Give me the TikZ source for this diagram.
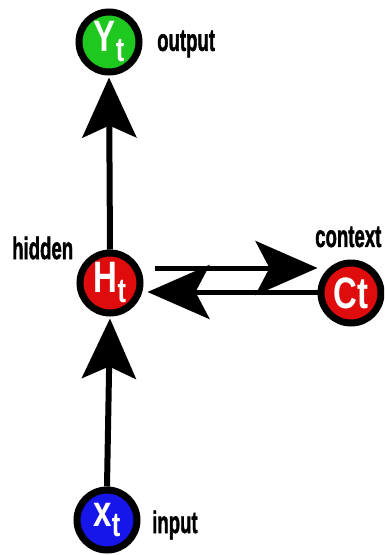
\documentclass[tikz,border=0pt]{standalone}
\usepackage{fontspec}
\setmainfont{Liberation Sans}
\newfontfamily\heavyfont[FakeBold=1.8]{Liberation Sans Bold}
\usetikzlibrary{arrows.meta}
\definecolor{ngreen}{RGB}{30,200,30}
\definecolor{nred}{RGB}{222,12,12}
\definecolor{nblue}{RGB}{22,22,235}
\newcommand{\labtxt}[1]{\scalebox{0.6}[1]{\fontsize{31}{31}\selectfont\heavyfont #1}}
\newcommand{\nodetxt}[2]{\scalebox{0.75}[1]{\fontsize{44}{44}\selectfont\bfseries #1\raisebox{-10pt}{\fontsize{34}{34}\selectfont\bfseries #2}}}
\tikzset{
  nodecirc/.style={circle, draw=black, line width=7pt, minimum size=60pt, inner sep=0pt, text=white},
  lab/.style={anchor=west, inner sep=0pt, text=black},
  arr/.style={line width=6pt, -{Stealth[length=60pt,width=54pt,inset=12pt]}},
  harr/.style={line width=5pt, -{Stealth[length=62pt,width=54pt,inset=14pt]}}
}
\begin{document}
\begin{tikzpicture}[x=1pt,y=1pt]
\useasboundingbox (0,0) rectangle (384,-555);
\clip (0,0) rectangle (384,-555);
\fill[white] (0,0) rectangle (384,-555);
\node[nodecirc, fill=ngreen] (Y) at (109,-42) {\nodetxt{Y}{t}};
\node[nodecirc, fill=nred] (H) at (110,-283) {\nodetxt{H}{t}};
\node[nodecirc, fill=nred] (C) at (351,-293) {\scalebox{0.75}[1]{\fontsize{44}{44}\selectfont\bfseries Ct}};
\node[nodecirc, fill=nblue] (X) at (107,-520) {\nodetxt{x}{t}};
\node[lab] (lo) at (157,-44) {\labtxt{output}};
\node[lab] (lh) at (12,-248) {\labtxt{hidden}};
\node[lab] (lc) at (315,-237) {\labtxt{context}};
\node[lab] (li) at (152,-525) {\labtxt{input}};
\draw[arr, shorten >=2pt] (H.north) -- (Y.south);
\draw[arr, shorten >=2pt] (X.north) -- (H.south);
\draw[harr, shorten <=11pt, shorten >=0pt] ([yshift=15pt]H.east) -- ([yshift=25pt]C.west);
\draw[harr, shorten >=4pt] ([yshift=1pt]C.west) -- ([yshift=-9pt]H.east);
\end{tikzpicture}
\end{document}
